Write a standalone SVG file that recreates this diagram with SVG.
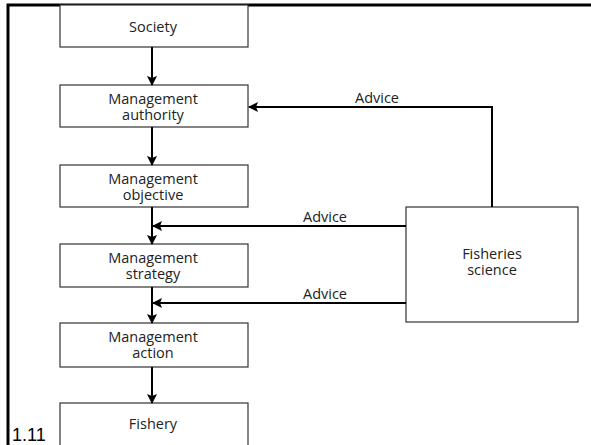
<svg xmlns="http://www.w3.org/2000/svg" width="591" height="445" viewBox="0 0 591 445">
<defs>
<marker id="ah" markerWidth="10" markerHeight="10" refX="9" refY="5" orient="auto" markerUnits="userSpaceOnUse">
<path d="M0,0 L10,5 L0,10 L2,5 Z" fill="#000"/>
</marker>
<style>
.box{fill:#fff;stroke:#333;stroke-width:1.2}
.t{font-family:"Open Sans","DejaVu Sans",sans-serif;font-size:14.5px;fill:#222;text-anchor:middle}
.c{fill:none;stroke:#000;stroke-width:2}
</style>
</defs>
<rect width="591" height="445" fill="#fff"/>
<g id="frame"><path d="M8,445 V5 H591" fill="none" stroke="#000" stroke-width="3"/></g>
<g id="society"><rect class="box" x="60" y="5" width="188" height="42"/><text class="t" x="153" y="32">Society</text></g>
<g id="authority"><rect class="box" x="60" y="85" width="188" height="42"/><text class="t" x="153" y="104">Management</text><text class="t" x="153" y="120">authority</text></g>
<g id="objective"><rect class="box" x="60" y="165" width="188" height="42"/><text class="t" x="153" y="183.5">Management</text><text class="t" x="153" y="199.5">objective</text></g>
<g id="strategy"><rect class="box" x="60" y="244" width="188" height="43"/><text class="t" x="153" y="262.5">Management</text><text class="t" x="153" y="278.5">strategy</text></g>
<g id="action"><rect class="box" x="60" y="323" width="188" height="44"/><text class="t" x="153" y="342">Management</text><text class="t" x="153" y="358">action</text></g>
<g id="fishery"><rect class="box" x="60" y="403" width="188" height="50"/><text class="t" x="153" y="429">Fishery</text></g>
<g id="science"><rect class="box" x="406" y="207" width="172" height="115"/><text class="t" x="492" y="258.5">Fisheries</text><text class="t" x="492" y="274.5">science</text></g>
<g id="connectors">
<line class="c" x1="152" y1="47" x2="152" y2="85" marker-end="url(#ah)"/>
<line class="c" x1="152" y1="127" x2="152" y2="165" marker-end="url(#ah)"/>
<line class="c" x1="152" y1="207" x2="152" y2="244" marker-end="url(#ah)"/>
<line class="c" x1="152" y1="287" x2="152" y2="323" marker-end="url(#ah)"/>
<line class="c" x1="152" y1="367" x2="152" y2="403" marker-end="url(#ah)"/>
<path class="c" d="M492,207 V107 H249" marker-end="url(#ah)"/>
<path class="c" d="M406,226 H153" marker-end="url(#ah)"/>
<path class="c" d="M406,303 H153" marker-end="url(#ah)"/>
<text class="t" x="377" y="103">Advice</text>
<text class="t" x="325" y="222">Advice</text>
<text class="t" x="325" y="299">Advice</text>
</g>
<text x="12" y="441" font-family="Liberation Sans, Arial, sans-serif" font-size="18" fill="#000">1.11</text>
</svg>
